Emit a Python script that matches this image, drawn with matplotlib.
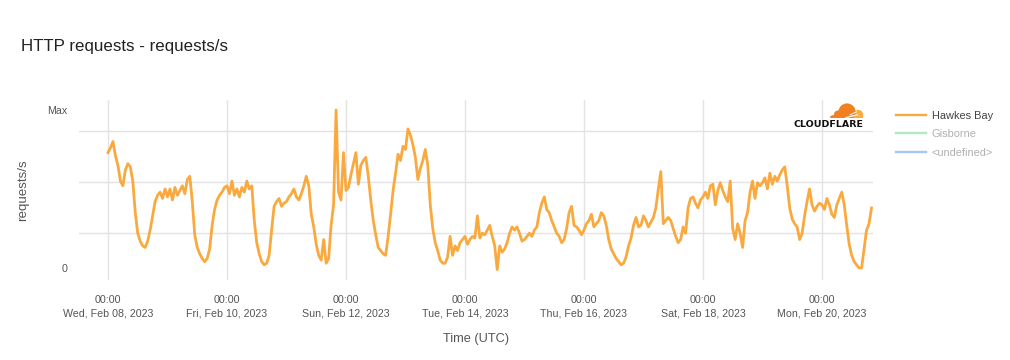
import matplotlib
matplotlib.use("Agg")
import matplotlib.pyplot as plt
import matplotlib.dates as mdates
import pandas as pd
from matplotlib.patches import Circle, Rectangle, Ellipse

plt.rcParams['font.family'] = ['Liberation Sans', 'DejaVu Sans']

# ---------------- data ----------------
start_time = "2023-02-08 00:00"
# hourly requests/s for Hawkes Bay, in percent of the period maximum
hawkes_bay = [
    73, 76, 80, 71, 65, 55, 52, 62, 66, 64, 55, 35, 22, 17, 14, 13, 17, 24, 33, 42, 46, 48, 44, 50,
    45, 50, 43, 51, 46, 49, 52, 47, 56, 58, 42, 21, 13, 9, 6, 4, 6, 12, 27, 37, 43, 46, 48, 51,
    52, 47, 55, 46, 50, 45, 51, 48, 55, 50, 52, 30, 16, 9, 4, 2, 3, 8, 24, 39, 42, 44, 39, 41,
    42, 45, 47, 50, 45, 43, 47, 52, 58, 52, 34, 26, 15, 8, 5, 18, 3, 6, 27, 40, 100, 48, 43, 73,
    49, 51, 59, 66, 73, 53, 65, 68, 70, 58, 43, 30, 21, 13, 11, 9, 8, 20, 34, 49, 60, 72, 68, 77,
    75, 88, 84, 78, 70, 56, 63, 68, 75, 65, 40, 25, 16, 11, 5, 3, 3, 7, 20, 8, 14, 11, 16, 18,
    20, 15, 18, 20, 19, 33, 19, 22, 21, 24, 27, 20, 14, -1, 14, 10, 12, 16, 22, 26, 24, 26, 22, 17,
    18, 20, 22, 20, 24, 26, 35, 41, 45, 37, 35, 30, 26, 22, 20, 16, 18, 25, 35, 39, 27, 26, 24, 21,
    24, 28, 30, 34, 26, 28, 30, 35, 33, 27, 18, 12, 9, 6, 4, 2, 3, 7, 14, 19, 27, 32, 26, 27,
    33, 30, 26, 29, 32, 38, 50, 61, 28, 30, 32, 30, 25, 20, 16, 18, 26, 22, 38, 44, 45, 41, 38, 43,
    45, 48, 44, 52, 53, 40, 49, 54, 49, 45, 42, 55, 25, 18, 28, 22, 13, 30, 35, 48, 55, 44, 54, 52,
    54, 57, 50, 60, 53, 58, 55, 59, 62, 64, 52, 38, 31, 28, 26, 18, 22, 33, 42, 50, 40, 36, 39, 41,
    40, 37, 44, 40, 34, 32, 40, 44, 48, 40, 27, 15, 8, 4, 2, 0, 0, 12, 24, 28, 38,
]
gisborne = []
undefined = []

series_names = ["Hawkes Bay", "Gisborne", "<undefined>"]
series_colors = ["#FAA93F", "#B7E6C6", "#A8C6F5"]
legend_text_colors = ["#444444", "#B0B0B0", "#B0B0B0"]

tick_dates = ["2023-02-08", "2023-02-10", "2023-02-12", "2023-02-14",
              "2023-02-16", "2023-02-18", "2023-02-20"]
y_tick_values = [0, 100]
y_tick_labels = ["0", "Max"]
y_grid_values = [22.0, 54.2, 86.9]

# ---------------- figure ----------------
W, H = 1010, 360
fig = plt.figure(figsize=(W / 100, H / 100), dpi=100)
fig.patch.set_facecolor("white")

ax_l, ax_r, ax_t, ax_b = 79, 873, 100, 280
ax = fig.add_axes([ax_l / W, 1 - ax_b / H, (ax_r - ax_l) / W, (ax_b - ax_t) / H])

times = pd.date_range(start_time, periods=len(hawkes_bay), freq="h")
t0 = pd.Timestamp(start_time)

ax.plot(times, hawkes_bay, color=series_colors[0], lw=2.0, solid_joinstyle="round",
        label=series_names[0], zorder=3)
ax.plot(times[:len(gisborne)], gisborne, color=series_colors[1], lw=1.7, label=series_names[1])
ax.plot(times[:len(undefined)], undefined, color=series_colors[2], lw=1.7, label=series_names[2])

ax.set_xlim(t0 - pd.Timedelta(hours=11.7), t0 + pd.Timedelta(hours=308.6))
ax.set_ylim(-7.6, 106.3)

for s in ax.spines.values():
    s.set_visible(False)

tick_ts = pd.to_datetime(tick_dates)
ax.set_xticks(tick_ts)
ax.xaxis.set_major_formatter(mdates.DateFormatter("%H:%M\n%a, %b %d, %Y"))
ax.tick_params(axis="x", length=0, pad=10.5, labelsize=7.7, labelcolor="#555555")
ax.set_yticks(y_tick_values, y_tick_labels)
ax.set_yticks(y_grid_values, minor=True)
ax.tick_params(axis="y", which="both", length=0, pad=8.5, labelsize=7.7, labelcolor="#555555")
ax.xaxis.grid(True, which="major", color="#E3E3E3", lw=1.0)
ax.yaxis.grid(True, which="minor", color="#E3E3E3", lw=1.0)
ax.yaxis.grid(False, which="major")
ax.set_axisbelow(True)
for lbl in ax.get_xticklabels():
    lbl.set_linespacing(1.45)

ax.set_xlabel("Time (UTC)", fontsize=9.2, color="#555555", labelpad=11)
ax.set_ylabel("requests/s", fontsize=9.6, color="#555555", labelpad=13)

fig.text(21 / W, 1 - 46 / H, "HTTP requests - requests/s", fontsize=12.2,
         color="#222222", ha="left", va="center")

leg = ax.legend(loc="upper left", bbox_to_anchor=(896 / W, 1 - 111 / H),
                bbox_transform=fig.transFigure, frameon=False, fontsize=7.9,
                handlelength=2.7, handletextpad=0.55, labelspacing=0.76,
                borderpad=0, borderaxespad=0)
for txt, c in zip(leg.get_texts(), legend_text_colors):
    txt.set_color(c)
for ln in leg.get_lines():
    ln.set_linewidth(1.7)

# ---------------- Cloudflare logo ----------------
lax = fig.add_axes([826 / W, 1 - 118 / H, 40 / W, 18 / H])
lax.set_xlim(826, 866)
lax.set_ylim(118, 100)
lax.set_aspect("auto")
lax.axis("off")
dark = "#F38020"
light = "#FBAD41"
lax.add_patch(Circle((858.5, 114.5), 4.6, color=light, lw=0))
lax.add_patch(Rectangle((853, 114.5), 10.5, 4, color=light, lw=0))
lax.add_patch(Circle((847, 112), 8.6, color=dark, lw=0))
lax.add_patch(Circle((838, 114.5), 4.0, color=dark, lw=0))
lax.add_patch(Ellipse((835, 117), 10, 4, color=dark, lw=0))
lax.plot([846, 857.5], [117.6, 114.8], color="white", lw=0.9)
lax.plot([850, 856.5], [114.9, 111.8], color="white", lw=0.7)

fig.text(863 / W, 1 - 124.5 / H, "CLOUDFLARE", fontsize=6.8, fontweight="bold",
         family="DejaVu Sans", color="#111111", ha="right", va="center")

fig.savefig("out.png", dpi=100, facecolor="white")
